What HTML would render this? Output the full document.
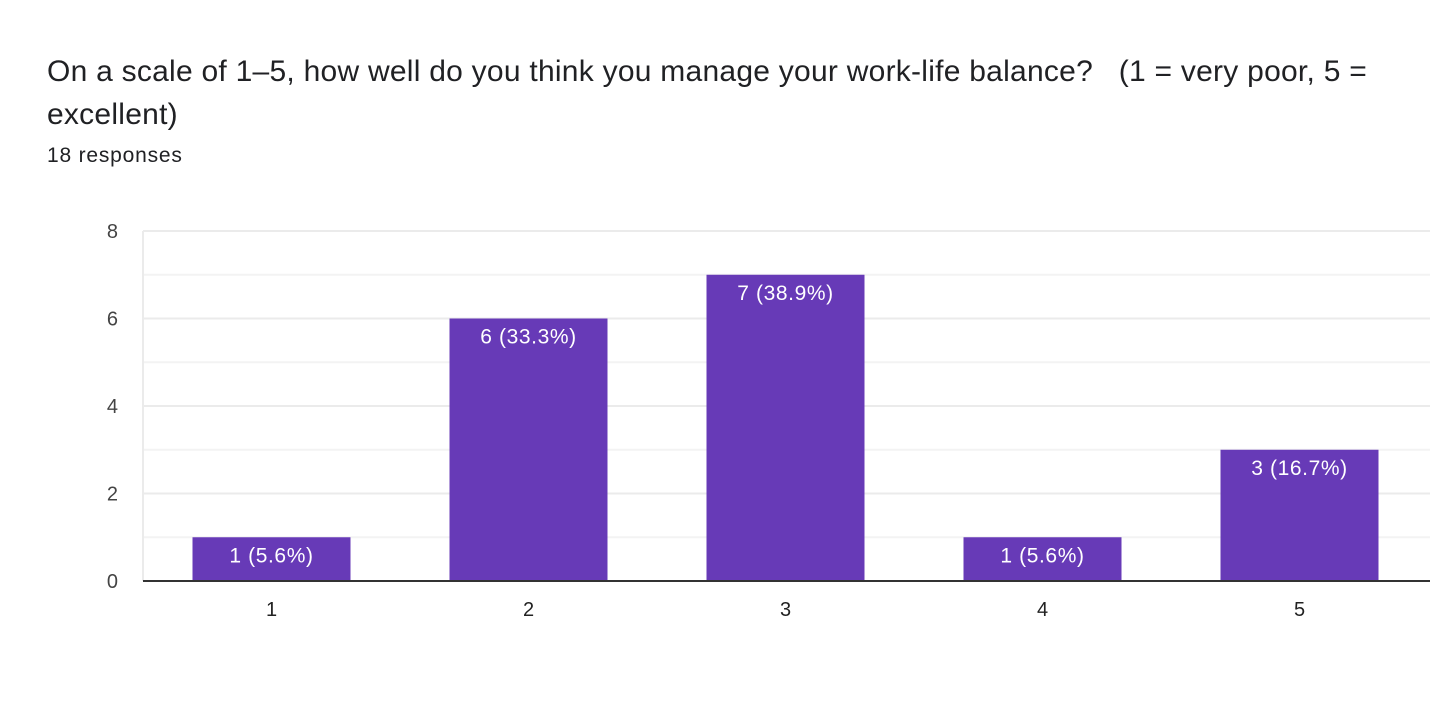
<!DOCTYPE html>
<html><head><meta charset="utf-8"><style>
body{margin:0;width:1430px;height:727px;background:#fff;overflow:hidden;font-family:"Liberation Sans",Arial,sans-serif;}
#title{position:absolute;left:47px;top:50px;width:1383px;font-size:30px;line-height:43px;color:#202124;letter-spacing:0.25px;white-space:nowrap;}
#resp{position:absolute;left:47px;top:144px;font-size:21px;color:#202124;letter-spacing:0.8px;}
svg{position:absolute;left:0;top:0;}
</style></head><body>
<div id="title">On a scale of 1–5, how well do you think you manage your work-life balance?&nbsp;&nbsp; (1 = very poor, 5 =<br>excellent)</div>
<div id="resp">18 responses</div>
<svg id="chart" width="1430" height="727"></svg>
<script>
const categories=["1","2","3","4","5"];
const values=[1,6,7,1,3];
const labels=["1 (5.6%)","6 (33.3%)","7 (38.9%)","1 (5.6%)","3 (16.7%)"];
const yTicks=[0,2,4,6,8];
const NS="http://www.w3.org/2000/svg";
const svg=document.getElementById('chart');
const x0=143,x1=1430,y0=581,yTop=231,yMax=8;
const band=257;
function y(v){return y0-(v/yMax)*(y0-yTop);}
function xc(i){return x0+band*(i+0.5);}
function mk(t,a){const e=document.createElementNS(NS,t);for(const k in a)e.setAttribute(k,a[k]);svg.appendChild(e);return e;}
for(let v=1;v<=yMax;v++){
  const g=mk('line',{x1:x0,x2:x1,y1:y(v),y2:y(v),stroke:v%2?'#f3f3f3':'#ebebeb','stroke-width':2});
  
  
}
const lb=mk('line',{x1:x0,x2:x0,y1:yTop,y2:y0,stroke:'#ebebeb','stroke-width':2});


yTicks.forEach(v=>{
  const t=mk('text',{x:118,y:y(v)+7,'text-anchor':'end','font-size':20,fill:'#444','font-family':'Liberation Sans, Arial, sans-serif'});
  t.textContent=v;
  
  
});
values.forEach((v,i)=>{
  const bw=158;
  const r=mk('rect',{x:xc(i)-bw/2,y:y(v),width:bw,height:y0-y(v),fill:'#673ab7'});
  
  
  const t=mk('text',{x:xc(i),y:y(v)+25,'text-anchor':'middle','font-size':21,fill:'#fff','letter-spacing':'0.6px','font-family':'Liberation Sans, Arial, sans-serif'});
  t.textContent=labels[i];
  
  
  const c=mk('text',{x:xc(i),y:616,'text-anchor':'middle','font-size':20,fill:'#222','font-family':'Liberation Sans, Arial, sans-serif'});
  c.textContent=categories[i];
  
  
});
const ax=mk('line',{x1:x0,x2:x1,y1:y0,y2:y0,stroke:'#333','stroke-width':2});


</script>
</body></html>
